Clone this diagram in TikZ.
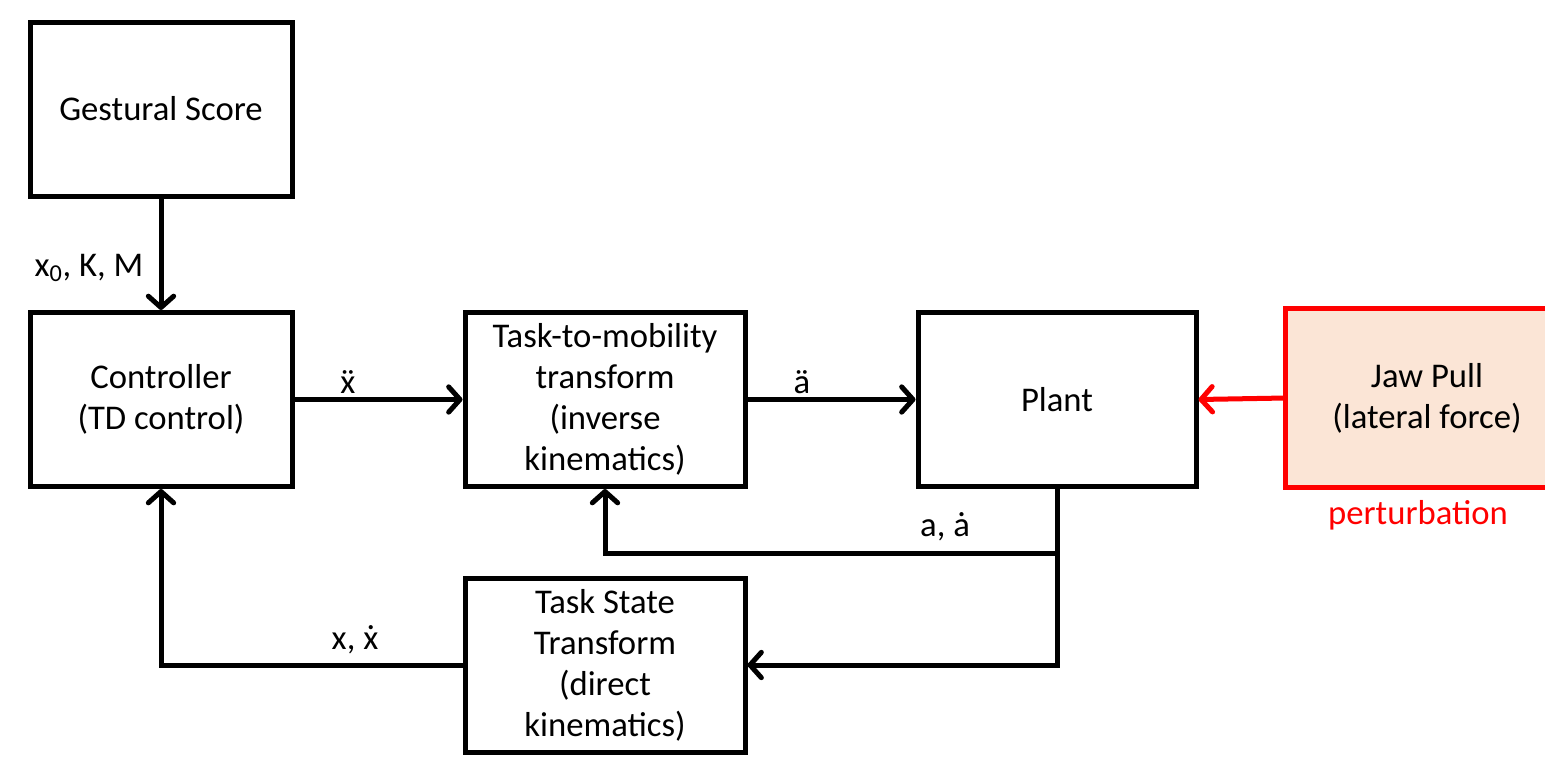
\documentclass[tikz,border=0pt]{standalone}
\usepackage{fontspec}
\setmainfont{Carlito}
\usetikzlibrary{arrows.meta}

\definecolor{pullred}{RGB}{255,0,0}
\definecolor{pullfill}{RGB}{251,229,214}

\tikzset{every picture/.style={line width=3.75pt}}
\tikzset{
    blockbox/.style={draw, fill=white, align=center, inner sep=2pt,
        minimum height=130.5pt, font=\fontsize{26}{30.75}\selectfont},
    sigtext/.style={inner sep=0.75pt, font=\fontsize{26}{30}\selectfont},
    sigarrow/.style={-{Straight Barb[length=8.5pt,width=19pt,line width=3.75pt,round]}}
}

\begin{document}
\begin{tikzpicture}[x=0.75pt,y=0.75pt,yscale=-1,xscale=1]
    \useasboundingbox (0,0) rectangle (1545,761);
    \clip (0,0) rectangle (1545,761);

    %Blocks
    \node [blockbox, minimum width=196.5pt] (score) at (161,109) {Gestural Score};
    \node [blockbox, minimum width=196.5pt] (ctrl) at (161,399.5) {Controller\\(TD control)};
    \node [blockbox, minimum width=210pt] (tmt) at (605,399.5) {Task-to-mobility\\transform\\(inverse\\kinematics)};
    \node [blockbox, minimum width=208.5pt] (plant) at (1057,399.5) {Plant};
    \node [blockbox, minimum width=210pt] (tst) at (605,665) {Task State\\Transform\\(direct\\kinematics)};
    %Perturbation block (runs off the right edge)
    \node [blockbox, minimum width=208.5pt, draw=none, fill=pullfill] (jaw) at (1427,398) {Jaw Pull\\(lateral force)};
    \draw [pullred] (jaw.north east) -- (jaw.north west) -- (jaw.south west) -- (jaw.south east);
    \node [sigtext, text=pullred] (pert) at (1418,515) {perturbation};

    %Forward path
    \draw [sigarrow] (score.south) -- (ctrl.north);
    \draw [sigarrow] (ctrl.east) -- (tmt.west);
    \draw [sigarrow] (tmt.east) -- (plant.west);
    \draw [sigarrow, draw=pullred] (jaw.west) -- (plant.east);

    %Feedback paths
    \coordinate (fb) at (1057,553);
    \draw [sigarrow] (plant.south) |- (tst.east);
    \draw [sigarrow] (fb) -| (tmt.south);
    \draw [sigarrow] (tst.west) -| (ctrl.south);

    % Text Nodes
    \node [sigtext] (gains) at (89,268) {x\textsubscript{0}, K, M};
    \node [sigtext] (xacc) at (348,382) {ẍ};
    \node [sigtext] (aacc) at (802,382) {ä};
    \node [sigtext] (astate) at (945,527) {a, ȧ};
    \node [sigtext] (xstate) at (355,640) {x, ẋ};

\end{tikzpicture}
\end{document}
